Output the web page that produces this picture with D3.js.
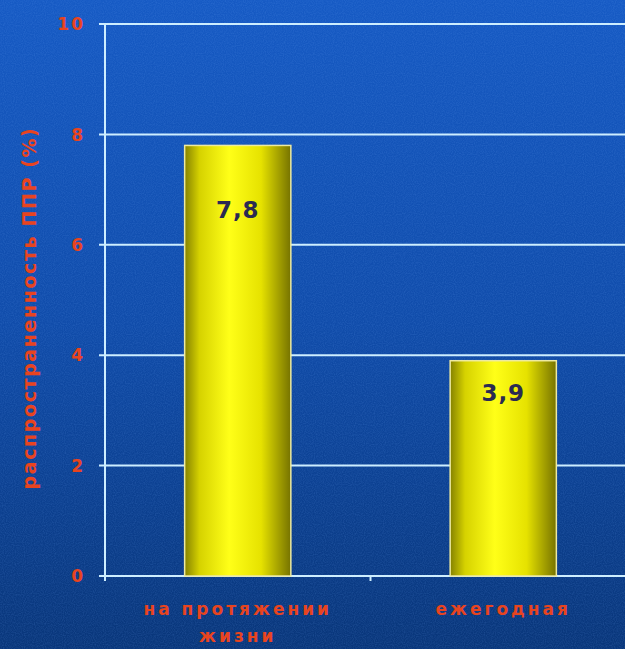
<!DOCTYPE html>
<html lang="ru">
<head>
    <meta charset="UTF-8">
    <title>ППР</title>
    <style>
        body { margin: 0; background: #0c3f86; }
        svg { display: block; }
        .tick-label, .cat-label, .y-title {
            font-family: "DejaVu Sans", sans-serif;
            font-weight: bold;
            fill: #e8441f;
        }
    </style>
</head>
<body>
    <div id="chart"></div>

    <script src="https://d3js.org/d3.v7.min.js"></script>
    <script>
        // Data
        const categories = ["на протяжении жизни", "ежегодная"];
        const labelLines = [["на протяжении", "жизни"], ["ежегодная"]];
        const values = [7.8, 3.9];
        const valueLabels = ["7,8", "3,9"];
        const yTicks = [0, 2, 4, 6, 8, 10];
        const yTitle = "распространенность ППР (%)";

        const W = 625, H = 649;
        const plot = { left: 105, right: 636, top: 24, bottom: 576 };

        const svg = d3.select("#chart").append("svg")
            .attr("width", W)
            .attr("height", H);

        const defs = svg.append("defs");

        // background gradient, lighter blue on top
        const bg = defs.append("linearGradient")
            .attr("id", "bgGrad")
            .attr("x1", 0).attr("y1", 0).attr("x2", 0).attr("y2", 1);
        bg.append("stop").attr("offset", "0%").attr("stop-color", "#165ac4");
        bg.append("stop").attr("offset", "50%").attr("stop-color", "#104caa");
        bg.append("stop").attr("offset", "100%").attr("stop-color", "#09367a");

        // yellow cylinder-like bar gradient
        const barGrad = defs.append("linearGradient")
            .attr("id", "barGrad")
            .attr("x1", 0).attr("y1", 0).attr("x2", 1).attr("y2", 0);
        [["0%", "#858200"], ["14%", "#d6d200"], ["42%", "#ffff18"], ["72%", "#e6e200"], ["100%", "#767300"]]
            .forEach(s => barGrad.append("stop").attr("offset", s[0]).attr("stop-color", s[1]));

        // grainy texture
        const noise = defs.append("filter").attr("id", "noise")
            .attr("x", 0).attr("y", 0).attr("width", "100%").attr("height", "100%");
        noise.append("feTurbulence")
            .attr("type", "fractalNoise").attr("baseFrequency", 0.9).attr("numOctaves", 1)
            .attr("result", "t");
        noise.append("feColorMatrix").attr("type", "matrix")
            .attr("values", "0 0 0 0 0.2  0 0 0 0 0.45  0 0 0 0 1  0 0 0 0.7 -0.25");

        svg.append("rect").attr("width", W).attr("height", H).attr("fill", "url(#bgGrad)");
        svg.append("rect").attr("width", W).attr("height", H).attr("filter", "url(#noise)").attr("opacity", 0.45);

        const x = d3.scaleBand()
            .domain(categories)
            .range([plot.left, plot.right]);

        const y = d3.scaleLinear()
            .domain([0, 10])
            .range([plot.bottom, plot.top]);

        const barW = x.bandwidth() * 0.4;

        // gridlines
        svg.append("g").selectAll("line")
            .data(yTicks)
            .join("line")
            .attr("x1", plot.left - 6).attr("x2", W)
            .attr("y1", d => y(d)).attr("y2", d => y(d))
            .attr("stroke", "#cdeeff")
            .attr("stroke-width", 2);

        // y axis line
        svg.append("line")
            .attr("x1", plot.left).attr("x2", plot.left)
            .attr("y1", y(10)).attr("y2", y(0))
            .attr("stroke", "#cdeeff")
            .attr("stroke-width", 2);

        // category ticks on x axis
        svg.append("g").selectAll("line")
            .data(categories)
            .join("line")
            .attr("x1", d => x(d)).attr("x2", d => x(d))
            .attr("y1", y(0)).attr("y2", y(0) + 5)
            .attr("stroke", "#cdeeff")
            .attr("stroke-width", 2);

        // y tick labels
        svg.append("g").selectAll("text")
            .data(yTicks)
            .join("text")
            .attr("class", "tick-label")
            .attr("x", plot.left - 20)
            .attr("y", d => y(d))
            .attr("dy", "0.36em")
            .attr("text-anchor", "end")
            .style("font-size", "17px")
            .style("letter-spacing", "2px")
            .text(d => d);

        // y title
        svg.append("text")
            .attr("class", "y-title")
            .attr("transform", "translate(36," + ((y(10) + y(0)) / 2 + 8) + ") rotate(-90)")
            .attr("text-anchor", "middle")
            .style("font-size", "19px")
            .style("letter-spacing", "1.6px")
            .text(yTitle);

        // bars
        svg.append("g").selectAll("rect")
            .data(values)
            .join("rect")
            .attr("x", (d, i) => x(categories[i]) + (x.bandwidth() - barW) / 2)
            .attr("y", d => y(d))
            .attr("width", barW)
            .attr("height", d => y(0) - y(d))
            .attr("fill", "url(#barGrad)")
            .attr("stroke", "#eeeaa0")
            .attr("stroke-width", 1.5);

        // value labels inside the bars
        svg.append("g").selectAll("text")
            .data(values)
            .join("text")
            .attr("x", (d, i) => x(categories[i]) + x.bandwidth() / 2)
            .attr("y", d => y(d * 0.85))
            .attr("dy", "0.35em")
            .attr("text-anchor", "middle")
            .style("font-family", "'DejaVu Sans', sans-serif")
            .style("font-weight", "bold")
            .style("font-size", "23px")
            .style("letter-spacing", "1px")
            .style("fill", "#2b2a52")
            .text((d, i) => valueLabels[i]);

        // category labels, possibly two lines
        const cat = svg.append("g").selectAll("text")
            .data(categories)
            .join("text")
            .attr("class", "cat-label")
            .attr("x", d => x(d) + x.bandwidth() / 2)
            .attr("y", 615)
            .attr("text-anchor", "middle")
            .style("font-size", "17px")
            .style("letter-spacing", "3px");

        cat.selectAll("tspan")
            .data((d, i) => labelLines[i])
            .join("tspan")
            .attr("x", function() { return d3.select(this.parentNode).attr("x"); })
            .attr("dy", (d, i) => i === 0 ? 0 : 27)
            .text(d => d);
    </script>
</body>
</html>
